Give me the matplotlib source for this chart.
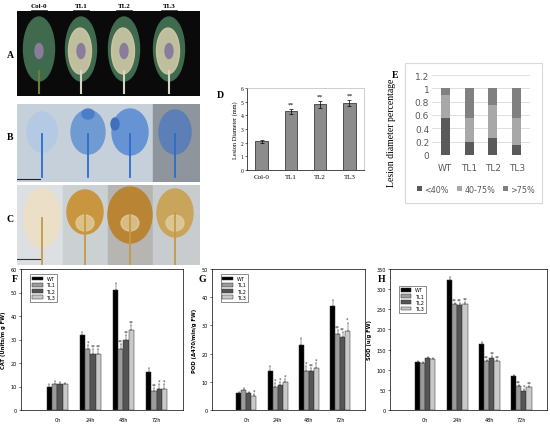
import numpy as np
import matplotlib
matplotlib.use("Agg")
import matplotlib.pyplot as plt
from matplotlib.patches import Ellipse, Rectangle
from matplotlib.lines import Line2D

# ---- data ----
lines_d = ["Col-0", "TL1", "TL2", "TL3"]
lesion_mm = [2.1, 4.3, 4.8, 4.9]
lesion_err = [0.1, 0.2, 0.25, 0.25]
lesion_sig = ["", "**", "**", "**"]

lines_e = ["WT", "TL1", "TL2", "TL3"]
pct_lt40 = [0.55, 0.20, 0.25, 0.15]
pct_40_75 = [0.35, 0.35, 0.50, 0.40]
pct_gt75 = [0.10, 0.45, 0.25, 0.45]

times = ["0h", "24h", "48h", "72h"]
genotypes = ["WT", "TL1", "TL2", "TL3"]

cat_vals = {"WT": [10, 32, 51, 16], "TL1": [11, 26, 26, 8],
            "TL2": [11, 24, 30, 9], "TL3": [11, 24, 34, 9]}
cat_err = {"WT": [1, 1, 3, 2], "TL1": [1.5, 1.5, 2, 1.5],
           "TL2": [1, 2, 2, 2], "TL3": [0.5, 2, 2, 2]}
cat_sig = {"WT": ["", "", "", ""], "TL1": ["", "*", "**", "**"],
           "TL2": ["", "**", "**", "*"], "TL3": ["", "**", "**", "*"]}

pod_vals = {"WT": [6, 14, 23, 37], "TL1": [7, 8, 14, 27],
            "TL2": [6, 9, 14, 26], "TL3": [5, 10, 15, 28]}
pod_err = {"WT": [0.5, 1.5, 2.5, 2], "TL1": [0.7, 1.5, 1.5, 1.5],
           "TL2": [0.5, 1, 1, 1.5], "TL3": [0.7, 1, 1.5, 3]}
pod_sig = {"WT": ["", "", "", ""], "TL1": ["", "*", "*", "**"],
           "TL2": ["", "*", "**", "**"], "TL3": ["*", "*", "*", "*"]}

sod_vals = {"WT": [120, 322, 165, 85], "TL1": [117, 262, 122, 60],
            "TL2": [130, 260, 130, 48], "TL3": [127, 262, 122, 57]}
sod_err = {"WT": [2, 8, 3, 3], "TL1": [2, 4, 3, 3],
           "TL2": [2, 5, 3, 3], "TL3": [2, 5, 3, 3]}
sod_sig = {"WT": ["", "", "", ""], "TL1": ["", "**", "**", "**"],
           "TL2": ["", "**", "**", "*"], "TL3": ["", "**", "**", "**"]}

W, H = 550, 427
fig = plt.figure(figsize=(5.5, 4.27), dpi=100)
fig.patch.set_facecolor("white")


def box(x0, y0, x1, y1):
    # pixel box (from top-left) -> figure fraction rect
    return [x0 / W, 1 - y1 / H, (x1 - x0) / W, (y1 - y0) / H]


def letter(x, y, s):
    fig.text(x / W, 1 - y / H, s, family="Liberation Serif", weight="bold",
             fontsize=7, ha="center", va="center")


# ---- photo panels (drawn schematically) ----
def leaf(ax, cx, cy, w, h, color, stem_top, stem_bot, stem_color, lw=1.2):
    ax.add_line(Line2D([cx, cx], [stem_top, stem_bot], color=stem_color, lw=lw))
    ax.add_patch(Ellipse((cx, cy), w, h, color=color))


def photo_axes(rect, pw, ph):
    ax = fig.add_axes(rect)
    ax.set_xlim(0, pw)
    ax.set_ylim(ph, 0)
    ax.axis("off")
    return ax

# A
axA = photo_axes(box(17, 12, 200, 97), 183, 85)
axA.add_patch(Rectangle((0, 0), 183, 85, color="#0a0a0a"))
xa = [22, 64, 107, 152]
for i, cx in enumerate(xa):
    stem = "#6d7d3a" if i == 0 else "#d8d4c4"
    leaf(axA, cx, 38, 31, 64, "#3f6a4e", 60, 82, stem, lw=1.5)
    if i > 0:
        axA.add_patch(Ellipse((cx - 1, 40), 23, 46, color="#cfc9a6", alpha=0.9))
    axA.add_patch(Ellipse((cx, 40), 8, 15, color="#8a7d9c"))
for cx, s in zip(xa, lines_d):
    t = fig.text((17 + cx) / W, 1 - 7 / H, s, family="Liberation Serif",
                 weight="bold", fontsize=5, ha="center", va="center")
    fig.add_artist(Line2D([(17 + cx - 8) / W, (17 + cx + 8) / W],
                          [1 - 10.5 / H, 1 - 10.5 / H], color="black", lw=0.5))
letter(10, 55, "A")

# B
axB = photo_axes(box(17, 105, 200, 183), 183, 78)
axB.add_patch(Rectangle((0, 0), 136, 78, color="#c6d0db"))
axB.add_patch(Rectangle((136, 0), 47, 78, color="#8f959c"))
xb = [25, 71, 113, 158]
bcol = ["#b4c9e3", "#6f9ad2", "#6593d3", "#5b7fb6"]
bw = [30, 34, 36, 32]
bh = [40, 44, 46, 44]
for cx, c, w_, h_ in zip(xb, bcol, bw, bh):
    leaf(axB, cx, 28, w_, h_, c, 30, 73, "#2f6cc6", lw=1.3)
axB.add_patch(Ellipse((71, 10), 12, 10, color="#4a7fc8"))
axB.add_patch(Ellipse((98, 20), 8, 12, color="#3f70bb"))
axB.add_line(Line2D([0, 23], [75, 75], color="#222222", lw=0.8))
letter(10, 137, "B")

# C
axC = photo_axes(box(17, 186, 200, 266), 183, 80)
for x0, x1, c in [(0, 46, "#dde0e2"), (46, 91, "#cbd0d3"),
                  (91, 136, "#b6b5b1"), (136, 183, "#c8ccce")]:
    axC.add_patch(Rectangle((x0, 0), x1 - x0, 80, color=c))
xc = [25, 68, 113, 158]
ccol = ["#ecdfc8", "#c9953e", "#b98434", "#c9a55c"]
cw = [36, 36, 44, 36]
ch = [60, 44, 56, 48]
cy = [33, 27, 30, 28]
for cx, c, w_, h_, y_ in zip(xc, ccol, cw, ch, cy):
    leaf(axC, cx, y_, w_, h_, c, y_, 79, "#c39a48", lw=1.3)
for cx in xc[1:]:
    axC.add_patch(Ellipse((cx, 38), 18, 16, color="#e3d3a8", alpha=0.7))
axC.add_line(Line2D([0, 23], [74, 74], color="#333333", lw=0.8))
letter(10, 220, "C")

# ---- D: lesion diameter ----
axD = fig.add_axes(box(247, 89, 364, 171))
xd = np.arange(len(lines_d))
axD.bar(xd, lesion_mm, width=0.42, color="#8c8c8c", edgecolor="#222222",
        linewidth=0.5, yerr=lesion_err, capsize=1.5,
        error_kw=dict(elinewidth=0.5, capthick=0.5))
for x, v, e, s in zip(xd, lesion_mm, lesion_err, lesion_sig):
    if s:
        axD.text(x, v + e + 0.15, s, ha="center", va="bottom", fontsize=4.5,
                 family="Liberation Serif")
axD.set_xlim(-0.5, 3.5)
axD.set_ylim(0, 6)
axD.set_yticks(range(0, 7))
axD.set_xticks(xd)
axD.set_xticklabels(lines_d, family="Liberation Serif", fontsize=5)
axD.tick_params(axis="y", labelsize=4, length=1.5, width=0.4, pad=1)
axD.tick_params(axis="x", length=0, pad=3)
for lab in axD.get_yticklabels():
    lab.set_family("Liberation Serif")
for sp in ["top", "right"]:
    axD.spines[sp].set_color("#bbbbbb")
for sp in axD.spines.values():
    sp.set_linewidth(0.5)
axD.set_ylabel("Lesion Diameter (mm)", family="Liberation Serif", fontsize=4.5,
               labelpad=2)
letter(220, 95, "D")

# ---- E: stacked percentage ----
fig.add_artist(Rectangle((405 / W, 1 - 204 / H), 137 / W, 140 / H,
                         transform=fig.transFigure, fill=False,
                         edgecolor="#d9d9d9", lw=0.8))
axE = fig.add_axes(box(432, 76, 530, 156))
xe = np.arange(len(lines_e))
b1 = axE.bar(xe, pct_lt40, width=0.38, color="#5a5a5a", label="<40%", zorder=3)
b2 = axE.bar(xe, pct_40_75, width=0.38, bottom=pct_lt40, color="#a8a8a8",
             label="40-75%", zorder=3)
bot = np.array(pct_lt40) + np.array(pct_40_75)
b3 = axE.bar(xe, pct_gt75, width=0.38, bottom=bot, color="#808080",
             label=">75%", zorder=3)
axE.set_ylim(0, 1.2)
axE.set_xlim(-0.55, 3.55)
axE.set_yticks(np.arange(0, 1.21, 0.2))
axE.set_yticklabels(["0", "0.2", "0.4", "0.6", "0.8", "1", "1.2"])
axE.grid(axis="y", color="#d9d9d9", lw=0.6, zorder=0)
for sp in axE.spines.values():
    sp.set_visible(False)
axE.set_xticks(xe)
axE.set_xticklabels(lines_e)
axE.tick_params(length=0, labelsize=6.5, labelcolor="#595959", pad=2)
axE.tick_params(axis="x", pad=6)
axE.legend(handles=[b1, b2, b3], loc="upper center", bbox_to_anchor=(0.45, -0.28),
           ncol=3, frameon=False, fontsize=5.8, handlelength=0.6,
           handleheight=0.6, handletextpad=0.3, columnspacing=1.0,
           labelcolor="#595959")
fig.text(392 / W, 1 - 133 / H, "Lesion diameter percentage", rotation=90,
         family="Liberation Serif", fontsize=7, ha="center", va="center")
letter(395, 75, "E")

# ---- F, G, H: enzyme activity ----
bar_colors = {"WT": "#000000", "TL1": "#9c9c9c", "TL2": "#555555",
              "TL3": "#c9c9c9"}


def enzyme(rect, vals, errs, sigs, ymax, ystep, ylabel, leg_y):
    ax = fig.add_axes(rect)
    xt = np.arange(len(times))
    bw_ = 0.16
    for k, g in enumerate(genotypes):
        xs = xt + (k - 1.5) * bw_
        v = np.array(vals[g])
        e = np.array(errs[g])
        ax.bar(xs, v, width=bw_, color=bar_colors[g], edgecolor="#333333",
               linewidth=0.35, label=g, yerr=[np.zeros_like(e), e],
               capsize=0.8, error_kw=dict(elinewidth=0.35, capthick=0.35,
                                          ecolor="#333333"))
        for x, vv, ee, s in zip(xs, v, e, sigs[g]):
            if s:
                ax.text(x, vv + ee + ymax * 0.004, s, ha="center", va="bottom",
                        fontsize=3.5, color="#333333")
    ax.set_xlim(-1.1, 3.8)
    ax.set_ylim(0, ymax)
    ax.set_yticks(np.arange(0, ymax + 0.1, ystep))
    ax.set_xticks(xt)
    ax.set_xticklabels(times)
    ax.tick_params(labelsize=3.5, length=1.5, width=0.4, pad=1.5)
    ax.tick_params(axis="x", length=0, pad=5)
    for sp in ax.spines.values():
        sp.set_linewidth(0.5)
    ax.set_ylabel(ylabel, fontsize=3.8, labelpad=3, weight="bold")
    leg = ax.legend(loc="upper left", bbox_to_anchor=(0.04, leg_y), fontsize=3.5,
                    handlelength=2.2, handleheight=0.8, fancybox=False,
                    edgecolor="#333333", borderpad=0.4, labelspacing=0.25)
    leg.get_frame().set_linewidth(0.5)
    return ax

enzyme(box(21, 270, 183, 411), cat_vals, cat_err, cat_sig, 60, 10,
       "CAT (Units/m g FW)", 0.98)
letter(15, 280, "F")
enzyme(box(212, 270, 365, 411), pod_vals, pod_err, pod_sig, 50, 10,
       "POD (\u0394470/min/g FW)", 0.98)
letter(202, 280, "G")
enzyme(box(390, 270, 547, 411), sod_vals, sod_err, sod_sig, 350, 50,
       "SOD (u/g FW)", 0.90)
letter(382, 280, "H")

fig.savefig("out.png", dpi=100)
